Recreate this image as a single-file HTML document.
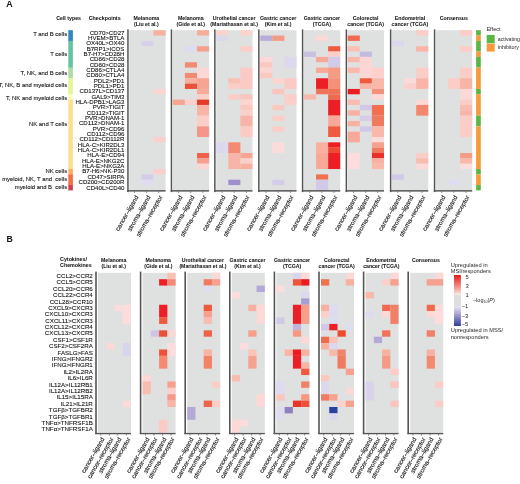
<!DOCTYPE html>
<html><head><meta charset="utf-8"><style>
html,body{margin:0;padding:0;background:#fff;}
body{width:520px;height:484px;position:relative;overflow:hidden;font-family:"Liberation Sans",sans-serif;}
body>div,#tx>div{position:absolute;}
#tx{left:0;top:0;width:520px;height:484px;transform:translateZ(0);}
.t{white-space:nowrap;-webkit-text-stroke:0.1px #000;}
.ra{width:0;height:0;transform:rotate(-60deg);transform-origin:0 0;}
.ra span{position:absolute;right:0;white-space:nowrap;color:#1a1a1a;-webkit-text-stroke:0.12px #000;}
</style></head><body>
<svg width="520" height="484" style="position:absolute;left:0;top:0">
<rect x="68.30" y="30.20" width="4.60" height="10.98" fill="#3288bd"/>
<rect x="68.30" y="40.88" width="4.60" height="27.00" fill="#66c2a5"/>
<rect x="68.30" y="67.58" width="4.60" height="10.98" fill="#abdda4"/>
<rect x="68.30" y="78.26" width="4.60" height="16.32" fill="#e6f598"/>
<rect x="68.30" y="94.28" width="4.60" height="5.64" fill="#ffffbf"/>
<rect x="68.30" y="99.62" width="4.60" height="69.72" fill="#fee08b"/>
<rect x="68.30" y="169.04" width="4.60" height="5.64" fill="#fdae61"/>
<rect x="68.30" y="174.38" width="4.60" height="10.98" fill="#f46d43"/>
<rect x="68.30" y="185.06" width="4.60" height="5.34" fill="#d53e4f"/>
<rect x="129.30" y="30.20" width="36.30" height="160.20" fill="#dfe1e0"/>
<rect x="141.40" y="40.88" width="12.10" height="5.34" fill="#d8d0e8"/>
<rect x="141.40" y="174.38" width="12.10" height="5.34" fill="#d5cce8"/>
<rect x="141.40" y="179.72" width="12.10" height="5.34" fill="#e0dcef"/>
<rect x="153.50" y="30.20" width="12.10" height="5.34" fill="#f7b0a0"/>
<rect x="153.50" y="88.94" width="12.10" height="5.34" fill="#fbd5d0"/>
<rect x="153.50" y="137.00" width="12.10" height="5.34" fill="#fbd0cc"/>
<rect x="153.50" y="169.04" width="12.10" height="5.34" fill="#fbcfca"/>
<rect x="127.20" y="29.40" width="1.50" height="162.70" fill="#555555"/>
<rect x="127.20" y="190.10" width="38.40" height="1.50" fill="#555555"/>
<rect x="134.15" y="191.50" width="0.80" height="1.30" fill="#555555"/>
<rect x="146.25" y="191.50" width="0.80" height="1.30" fill="#555555"/>
<rect x="158.35" y="191.50" width="0.80" height="1.30" fill="#555555"/>
<rect x="172.80" y="30.20" width="36.30" height="160.20" fill="#dfe1e0"/>
<rect x="172.80" y="99.62" width="12.10" height="5.34" fill="#f5a592"/>
<rect x="184.90" y="46.22" width="12.10" height="5.34" fill="#dcdcf0"/>
<rect x="184.90" y="62.24" width="12.10" height="5.34" fill="#f28b76"/>
<rect x="184.90" y="72.92" width="12.10" height="5.34" fill="#f28b76"/>
<rect x="184.90" y="78.26" width="12.10" height="5.34" fill="#f8b0a0"/>
<rect x="184.90" y="83.60" width="12.10" height="5.34" fill="#e9503a"/>
<rect x="184.90" y="99.62" width="12.10" height="5.34" fill="#fbd0cc"/>
<rect x="197.00" y="30.20" width="12.10" height="5.34" fill="#f7ad9c"/>
<rect x="197.00" y="46.22" width="12.10" height="5.34" fill="#f5a08c"/>
<rect x="197.00" y="67.58" width="12.10" height="10.68" fill="#fbd8d5"/>
<rect x="197.00" y="78.26" width="12.10" height="10.68" fill="#f6a592"/>
<rect x="197.00" y="88.94" width="12.10" height="5.34" fill="#f7ab98"/>
<rect x="197.00" y="94.28" width="12.10" height="5.34" fill="#fbd0c8"/>
<rect x="197.00" y="99.62" width="12.10" height="5.34" fill="#e33a2a"/>
<rect x="197.00" y="104.96" width="12.10" height="10.68" fill="#f8b4a5"/>
<rect x="197.00" y="115.64" width="12.10" height="10.68" fill="#fbcfc8"/>
<rect x="197.00" y="126.32" width="12.10" height="10.68" fill="#f4978a"/>
<rect x="197.00" y="153.02" width="12.10" height="5.34" fill="#ee6048"/>
<rect x="197.00" y="158.36" width="12.10" height="5.34" fill="#f5a08e"/>
<rect x="197.00" y="163.70" width="12.10" height="5.34" fill="#fbd6d2"/>
<rect x="170.70" y="29.40" width="1.50" height="162.70" fill="#555555"/>
<rect x="170.70" y="190.10" width="38.40" height="1.50" fill="#555555"/>
<rect x="178.25" y="191.50" width="0.80" height="1.30" fill="#555555"/>
<rect x="190.35" y="191.50" width="0.80" height="1.30" fill="#555555"/>
<rect x="202.45" y="191.50" width="0.80" height="1.30" fill="#555555"/>
<rect x="216.20" y="30.20" width="36.30" height="160.20" fill="#dfe1e0"/>
<rect x="216.20" y="30.20" width="12.10" height="5.34" fill="#fbd3cd"/>
<rect x="216.20" y="35.54" width="12.10" height="5.34" fill="#dcd8ee"/>
<rect x="216.20" y="142.34" width="12.10" height="10.68" fill="#dcd8ee"/>
<rect x="228.30" y="78.26" width="12.10" height="5.34" fill="#f9c0b4"/>
<rect x="228.30" y="83.60" width="12.10" height="5.34" fill="#fbcdc6"/>
<rect x="228.30" y="94.28" width="12.10" height="5.34" fill="#fbcdc6"/>
<rect x="228.30" y="142.34" width="12.10" height="10.68" fill="#f48a72"/>
<rect x="228.30" y="153.02" width="12.10" height="16.02" fill="#f8b4a8"/>
<rect x="228.30" y="179.72" width="12.10" height="5.34" fill="#9f90cc"/>
<rect x="240.40" y="30.20" width="12.10" height="5.34" fill="#fbd3cd"/>
<rect x="240.40" y="46.22" width="12.10" height="5.34" fill="#fbcdc6"/>
<rect x="240.40" y="67.58" width="12.10" height="21.36" fill="#fbcac4"/>
<rect x="240.40" y="94.28" width="12.10" height="5.34" fill="#f9c4bc"/>
<rect x="240.40" y="99.62" width="12.10" height="5.34" fill="#fbd5d0"/>
<rect x="240.40" y="104.96" width="12.10" height="5.34" fill="#fbc8c0"/>
<rect x="240.40" y="110.30" width="12.10" height="5.34" fill="#fbd0ca"/>
<rect x="240.40" y="115.64" width="12.10" height="10.68" fill="#f8b4a8"/>
<rect x="240.40" y="126.32" width="12.10" height="10.68" fill="#fbcbc4"/>
<rect x="240.40" y="153.02" width="12.10" height="5.34" fill="#f6a493"/>
<rect x="240.40" y="158.36" width="12.10" height="5.34" fill="#fbd0ca"/>
<rect x="240.40" y="163.70" width="12.10" height="5.34" fill="#f8b0a0"/>
<rect x="214.10" y="29.40" width="1.50" height="162.70" fill="#555555"/>
<rect x="214.10" y="190.10" width="38.40" height="1.50" fill="#555555"/>
<rect x="221.65" y="191.50" width="0.80" height="1.30" fill="#555555"/>
<rect x="233.75" y="191.50" width="0.80" height="1.30" fill="#555555"/>
<rect x="245.85" y="191.50" width="0.80" height="1.30" fill="#555555"/>
<rect x="260.20" y="30.20" width="36.30" height="160.20" fill="#dfe1e0"/>
<rect x="260.20" y="35.54" width="12.10" height="5.34" fill="#b8acd8"/>
<rect x="260.20" y="56.90" width="12.10" height="5.34" fill="#fcd8d8"/>
<rect x="260.20" y="62.24" width="12.10" height="5.34" fill="#fbc8c0"/>
<rect x="260.20" y="67.58" width="12.10" height="5.34" fill="#fcd5d2"/>
<rect x="260.20" y="72.92" width="12.10" height="5.34" fill="#fbc8c0"/>
<rect x="272.30" y="35.54" width="12.10" height="5.34" fill="#f59a82"/>
<rect x="272.30" y="78.26" width="12.10" height="5.34" fill="#fcd5d0"/>
<rect x="272.30" y="88.94" width="12.10" height="5.34" fill="#fbc4bc"/>
<rect x="272.30" y="104.96" width="12.10" height="5.34" fill="#fbc8c0"/>
<rect x="272.30" y="115.64" width="12.10" height="5.34" fill="#fbcdc6"/>
<rect x="272.30" y="126.32" width="12.10" height="5.34" fill="#fbcdc6"/>
<rect x="272.30" y="142.34" width="12.10" height="10.68" fill="#fbdcdc"/>
<rect x="272.30" y="179.72" width="12.10" height="5.34" fill="#d5cce8"/>
<rect x="284.40" y="56.90" width="12.10" height="10.68" fill="#dcd8ee"/>
<rect x="284.40" y="78.26" width="12.10" height="10.68" fill="#fbcac4"/>
<rect x="284.40" y="94.28" width="12.10" height="5.34" fill="#fbcdc6"/>
<rect x="284.40" y="99.62" width="12.10" height="5.34" fill="#fbd0ca"/>
<rect x="258.10" y="29.40" width="1.50" height="162.70" fill="#555555"/>
<rect x="258.10" y="190.10" width="38.40" height="1.50" fill="#555555"/>
<rect x="265.65" y="191.50" width="0.80" height="1.30" fill="#555555"/>
<rect x="277.75" y="191.50" width="0.80" height="1.30" fill="#555555"/>
<rect x="289.85" y="191.50" width="0.80" height="1.30" fill="#555555"/>
<rect x="303.95" y="30.20" width="36.30" height="160.20" fill="#dfe1e0"/>
<rect x="303.95" y="51.56" width="12.10" height="5.34" fill="#c9c0e2"/>
<rect x="303.95" y="94.28" width="12.10" height="5.34" fill="#f9b8aa"/>
<rect x="316.05" y="35.54" width="12.10" height="5.34" fill="#fcd8d6"/>
<rect x="316.05" y="56.90" width="12.10" height="5.34" fill="#f7a896"/>
<rect x="316.05" y="67.58" width="12.10" height="5.34" fill="#f7a896"/>
<rect x="316.05" y="78.26" width="12.10" height="10.68" fill="#ec1f26"/>
<rect x="316.05" y="88.94" width="12.10" height="5.34" fill="#f07358"/>
<rect x="316.05" y="142.34" width="12.10" height="10.68" fill="#f9b0a0"/>
<rect x="316.05" y="153.02" width="12.10" height="16.02" fill="#f8a898"/>
<rect x="316.05" y="174.38" width="12.10" height="5.34" fill="#f07050"/>
<rect x="316.05" y="179.72" width="12.10" height="10.68" fill="#d2c8e8"/>
<rect x="328.15" y="46.22" width="12.10" height="5.34" fill="#ee5a3e"/>
<rect x="328.15" y="51.56" width="12.10" height="5.34" fill="#fbcfc8"/>
<rect x="328.15" y="56.90" width="12.10" height="10.68" fill="#d2cce8"/>
<rect x="328.15" y="67.58" width="12.10" height="10.68" fill="#f59a85"/>
<rect x="328.15" y="78.26" width="12.10" height="10.68" fill="#f4907a"/>
<rect x="328.15" y="88.94" width="12.10" height="5.34" fill="#f07358"/>
<rect x="328.15" y="94.28" width="12.10" height="5.34" fill="#ef6850"/>
<rect x="328.15" y="99.62" width="12.10" height="16.02" fill="#ec1f26"/>
<rect x="328.15" y="115.64" width="12.10" height="10.68" fill="#f8a898"/>
<rect x="328.15" y="126.32" width="12.10" height="10.68" fill="#f05a3e"/>
<rect x="328.15" y="137.00" width="12.10" height="5.34" fill="#e8e6e6"/>
<rect x="328.15" y="142.34" width="12.10" height="5.34" fill="#ec1f26"/>
<rect x="328.15" y="147.68" width="12.10" height="5.34" fill="#ee4a35"/>
<rect x="328.15" y="153.02" width="12.10" height="16.02" fill="#ec1f26"/>
<rect x="301.85" y="29.40" width="1.50" height="162.70" fill="#555555"/>
<rect x="301.85" y="190.10" width="38.40" height="1.50" fill="#555555"/>
<rect x="309.40" y="191.50" width="0.80" height="1.30" fill="#555555"/>
<rect x="321.50" y="191.50" width="0.80" height="1.30" fill="#555555"/>
<rect x="333.60" y="191.50" width="0.80" height="1.30" fill="#555555"/>
<rect x="347.70" y="30.20" width="36.30" height="160.20" fill="#dfe1e0"/>
<rect x="347.70" y="35.54" width="12.10" height="5.34" fill="#f06a50"/>
<rect x="347.70" y="46.22" width="12.10" height="5.34" fill="#fbc0b5"/>
<rect x="347.70" y="56.90" width="12.10" height="5.34" fill="#f9b8aa"/>
<rect x="347.70" y="67.58" width="12.10" height="5.34" fill="#f9b8aa"/>
<rect x="347.70" y="88.94" width="12.10" height="5.34" fill="#ea1c22"/>
<rect x="347.70" y="99.62" width="12.10" height="5.34" fill="#f9bcb0"/>
<rect x="347.70" y="110.30" width="12.10" height="5.34" fill="#f8b0a0"/>
<rect x="347.70" y="120.98" width="12.10" height="5.34" fill="#f8b0a0"/>
<rect x="347.70" y="131.66" width="12.10" height="10.68" fill="#f7a898"/>
<rect x="347.70" y="153.02" width="12.10" height="16.02" fill="#fcdcdc"/>
<rect x="359.80" y="51.56" width="12.10" height="5.34" fill="#c4bce0"/>
<rect x="359.80" y="56.90" width="12.10" height="21.36" fill="#fcd6d4"/>
<rect x="359.80" y="78.26" width="12.10" height="5.34" fill="#ee5a40"/>
<rect x="359.80" y="83.60" width="12.10" height="5.34" fill="#f9b4a6"/>
<rect x="359.80" y="104.96" width="12.10" height="5.34" fill="#d0c8e6"/>
<rect x="359.80" y="115.64" width="12.10" height="5.34" fill="#d5cde8"/>
<rect x="359.80" y="126.32" width="12.10" height="5.34" fill="#d0c8e6"/>
<rect x="371.90" y="67.58" width="12.10" height="10.68" fill="#fcd0cc"/>
<rect x="371.90" y="78.26" width="12.10" height="10.68" fill="#f9b8aa"/>
<rect x="371.90" y="88.94" width="12.10" height="5.34" fill="#f5907a"/>
<rect x="371.90" y="94.28" width="12.10" height="5.34" fill="#fcd8d6"/>
<rect x="371.90" y="104.96" width="12.10" height="10.68" fill="#f07050"/>
<rect x="371.90" y="115.64" width="12.10" height="10.68" fill="#f07a60"/>
<rect x="371.90" y="126.32" width="12.10" height="10.68" fill="#f9b8aa"/>
<rect x="371.90" y="137.00" width="12.10" height="5.34" fill="#fcdcdc"/>
<rect x="371.90" y="142.34" width="12.10" height="5.34" fill="#f6a090"/>
<rect x="371.90" y="147.68" width="12.10" height="5.34" fill="#f07a60"/>
<rect x="371.90" y="153.02" width="12.10" height="5.34" fill="#e8302a"/>
<rect x="371.90" y="158.36" width="12.10" height="5.34" fill="#f8b0a0"/>
<rect x="371.90" y="163.70" width="12.10" height="5.34" fill="#f9b8aa"/>
<rect x="345.60" y="29.40" width="1.50" height="162.70" fill="#555555"/>
<rect x="345.60" y="190.10" width="38.40" height="1.50" fill="#555555"/>
<rect x="353.15" y="191.50" width="0.80" height="1.30" fill="#555555"/>
<rect x="365.25" y="191.50" width="0.80" height="1.30" fill="#555555"/>
<rect x="377.35" y="191.50" width="0.80" height="1.30" fill="#555555"/>
<rect x="392.00" y="30.20" width="36.30" height="160.20" fill="#dfe1e0"/>
<rect x="392.00" y="40.88" width="12.10" height="5.34" fill="#dcd6ee"/>
<rect x="392.00" y="174.38" width="12.10" height="5.34" fill="#d2c8e8"/>
<rect x="404.10" y="78.26" width="12.10" height="5.34" fill="#fcdada"/>
<rect x="404.10" y="83.60" width="12.10" height="5.34" fill="#fbd0ca"/>
<rect x="416.20" y="30.20" width="12.10" height="5.34" fill="#fbcdc6"/>
<rect x="416.20" y="46.22" width="12.10" height="5.34" fill="#f9b4a6"/>
<rect x="416.20" y="67.58" width="12.10" height="10.68" fill="#fbcdc6"/>
<rect x="416.20" y="78.26" width="12.10" height="10.68" fill="#f8b4a6"/>
<rect x="416.20" y="99.62" width="12.10" height="5.34" fill="#fcd8d6"/>
<rect x="416.20" y="104.96" width="12.10" height="10.68" fill="#f3876e"/>
<rect x="416.20" y="153.02" width="12.10" height="5.34" fill="#fbcdc6"/>
<rect x="416.20" y="158.36" width="12.10" height="5.34" fill="#f9bcb0"/>
<rect x="416.20" y="163.70" width="12.10" height="5.34" fill="#fcdada"/>
<rect x="389.90" y="29.40" width="1.50" height="162.70" fill="#555555"/>
<rect x="389.90" y="190.10" width="38.40" height="1.50" fill="#555555"/>
<rect x="397.45" y="191.50" width="0.80" height="1.30" fill="#555555"/>
<rect x="409.55" y="191.50" width="0.80" height="1.30" fill="#555555"/>
<rect x="421.65" y="191.50" width="0.80" height="1.30" fill="#555555"/>
<rect x="435.90" y="30.20" width="36.30" height="160.20" fill="#dfe1e0"/>
<rect x="448.00" y="78.26" width="12.10" height="10.68" fill="#fbcdc6"/>
<rect x="448.00" y="179.72" width="12.10" height="5.34" fill="#e0dcf0"/>
<rect x="460.10" y="30.20" width="12.10" height="5.34" fill="#fbcdc6"/>
<rect x="460.10" y="46.22" width="12.10" height="5.34" fill="#fbcdc6"/>
<rect x="460.10" y="67.58" width="12.10" height="10.68" fill="#fbcdc6"/>
<rect x="460.10" y="78.26" width="12.10" height="10.68" fill="#f8b4a6"/>
<rect x="460.10" y="88.94" width="12.10" height="10.68" fill="#fcd8d6"/>
<rect x="460.10" y="99.62" width="12.10" height="5.34" fill="#fbcdc6"/>
<rect x="460.10" y="104.96" width="12.10" height="5.34" fill="#f9bcb0"/>
<rect x="460.10" y="110.30" width="12.10" height="5.34" fill="#f8b4a6"/>
<rect x="460.10" y="115.64" width="12.10" height="21.36" fill="#fbcdc6"/>
<rect x="460.10" y="153.02" width="12.10" height="5.34" fill="#f59c88"/>
<rect x="460.10" y="158.36" width="12.10" height="5.34" fill="#f9b8aa"/>
<rect x="460.10" y="163.70" width="12.10" height="5.34" fill="#fcdcdc"/>
<rect x="433.80" y="29.40" width="1.50" height="162.70" fill="#555555"/>
<rect x="433.80" y="190.10" width="38.40" height="1.50" fill="#555555"/>
<rect x="441.35" y="191.50" width="0.80" height="1.30" fill="#555555"/>
<rect x="453.45" y="191.50" width="0.80" height="1.30" fill="#555555"/>
<rect x="465.55" y="191.50" width="0.80" height="1.30" fill="#555555"/>
<rect x="476.10" y="30.20" width="4.70" height="5.34" fill="#5cb545"/>
<rect x="476.10" y="35.54" width="4.70" height="5.34" fill="#f79a3c"/>
<rect x="476.10" y="40.88" width="4.70" height="10.68" fill="#5cb545"/>
<rect x="476.10" y="51.56" width="4.70" height="5.34" fill="#f79a3c"/>
<rect x="476.10" y="56.90" width="4.70" height="10.68" fill="#5cb545"/>
<rect x="476.10" y="67.58" width="4.70" height="21.36" fill="#f79a3c"/>
<rect x="476.10" y="88.94" width="4.70" height="5.34" fill="#5cb545"/>
<rect x="476.10" y="94.28" width="4.70" height="21.36" fill="#f79a3c"/>
<rect x="476.10" y="115.64" width="4.70" height="10.68" fill="#5cb545"/>
<rect x="476.10" y="126.32" width="4.70" height="42.72" fill="#f79a3c"/>
<rect x="476.10" y="169.04" width="4.70" height="5.34" fill="#5cb545"/>
<rect x="476.10" y="174.38" width="4.70" height="10.68" fill="#f79a3c"/>
<rect x="476.10" y="185.06" width="4.70" height="5.34" fill="#5cb545"/>
<rect x="486.70" y="34.90" width="8.00" height="8.30" fill="#5cb545"/>
<rect x="486.70" y="43.60" width="8.00" height="8.00" fill="#f79a3c"/>
<rect x="98.00" y="272.80" width="33.00" height="159.75" fill="#dfe1e0"/>
<rect x="106.25" y="343.09" width="8.25" height="6.39" fill="#fcd8d6"/>
<rect x="114.50" y="304.75" width="8.25" height="6.39" fill="#fcdcdc"/>
<rect x="122.75" y="304.75" width="8.25" height="19.17" fill="#fcdcdc"/>
<rect x="122.75" y="343.09" width="8.25" height="12.78" fill="#d8d4ec"/>
<rect x="122.75" y="400.60" width="8.25" height="6.39" fill="#fcdada"/>
<rect x="95.20" y="271.60" width="1.60" height="162.45" fill="#555555"/>
<rect x="95.20" y="432.85" width="35.80" height="1.40" fill="#555555"/>
<rect x="100.40" y="434.15" width="0.80" height="1.30" fill="#555555"/>
<rect x="108.90" y="434.15" width="0.80" height="1.30" fill="#555555"/>
<rect x="117.40" y="434.15" width="0.80" height="1.30" fill="#555555"/>
<rect x="125.90" y="434.15" width="0.80" height="1.30" fill="#555555"/>
<rect x="142.60" y="272.80" width="33.00" height="159.75" fill="#dfe1e0"/>
<rect x="142.60" y="375.04" width="8.25" height="6.39" fill="#fcd8d6"/>
<rect x="142.60" y="381.43" width="8.25" height="12.78" fill="#f9bcb0"/>
<rect x="150.85" y="330.31" width="8.25" height="6.39" fill="#cdc4e4"/>
<rect x="159.10" y="279.19" width="8.25" height="6.39" fill="#ec1f26"/>
<rect x="159.10" y="304.75" width="8.25" height="12.78" fill="#ec1f26"/>
<rect x="159.10" y="317.53" width="8.25" height="6.39" fill="#ee5a40"/>
<rect x="159.10" y="330.31" width="8.25" height="6.39" fill="#ec5034"/>
<rect x="159.10" y="349.48" width="8.25" height="6.39" fill="#ee5038"/>
<rect x="159.10" y="355.87" width="8.25" height="12.78" fill="#f48a70"/>
<rect x="159.10" y="419.77" width="8.25" height="12.78" fill="#fbcac4"/>
<rect x="167.35" y="272.80" width="8.25" height="6.39" fill="#f9c0b4"/>
<rect x="167.35" y="279.19" width="8.25" height="6.39" fill="#f48a76"/>
<rect x="167.35" y="330.31" width="8.25" height="6.39" fill="#fcd8d6"/>
<rect x="167.35" y="343.09" width="8.25" height="12.78" fill="#fcdcdc"/>
<rect x="167.35" y="381.43" width="8.25" height="6.39" fill="#f6a090"/>
<rect x="167.35" y="387.82" width="8.25" height="6.39" fill="#fbd0ca"/>
<rect x="167.35" y="394.21" width="8.25" height="6.39" fill="#f59a88"/>
<rect x="167.35" y="400.60" width="8.25" height="6.39" fill="#f8b4a6"/>
<rect x="139.80" y="271.60" width="1.60" height="162.45" fill="#555555"/>
<rect x="139.80" y="432.85" width="35.80" height="1.40" fill="#555555"/>
<rect x="145.00" y="434.15" width="0.80" height="1.30" fill="#555555"/>
<rect x="153.50" y="434.15" width="0.80" height="1.30" fill="#555555"/>
<rect x="162.00" y="434.15" width="0.80" height="1.30" fill="#555555"/>
<rect x="170.50" y="434.15" width="0.80" height="1.30" fill="#555555"/>
<rect x="187.20" y="272.80" width="33.00" height="159.75" fill="#dfe1e0"/>
<rect x="187.20" y="406.99" width="8.25" height="12.78" fill="#b4a8d8"/>
<rect x="203.70" y="279.19" width="8.25" height="6.39" fill="#f07a60"/>
<rect x="203.70" y="285.58" width="8.25" height="6.39" fill="#e0dcf0"/>
<rect x="203.70" y="304.75" width="8.25" height="6.39" fill="#ee5a40"/>
<rect x="203.70" y="311.14" width="8.25" height="6.39" fill="#f5a08c"/>
<rect x="203.70" y="317.53" width="8.25" height="6.39" fill="#f9bcb0"/>
<rect x="203.70" y="330.31" width="8.25" height="6.39" fill="#ee6248"/>
<rect x="203.70" y="349.48" width="8.25" height="6.39" fill="#f9b4a6"/>
<rect x="203.70" y="355.87" width="8.25" height="12.78" fill="#f28268"/>
<rect x="203.70" y="400.60" width="8.25" height="6.39" fill="#ee6248"/>
<rect x="211.95" y="272.80" width="8.25" height="6.39" fill="#fcd8d6"/>
<rect x="211.95" y="279.19" width="8.25" height="6.39" fill="#f6a090"/>
<rect x="211.95" y="381.43" width="8.25" height="6.39" fill="#fbcdc6"/>
<rect x="211.95" y="400.60" width="8.25" height="6.39" fill="#fbcdc6"/>
<rect x="184.40" y="271.60" width="1.60" height="162.45" fill="#555555"/>
<rect x="184.40" y="432.85" width="35.80" height="1.40" fill="#555555"/>
<rect x="189.60" y="434.15" width="0.80" height="1.30" fill="#555555"/>
<rect x="198.10" y="434.15" width="0.80" height="1.30" fill="#555555"/>
<rect x="206.60" y="434.15" width="0.80" height="1.30" fill="#555555"/>
<rect x="215.10" y="434.15" width="0.80" height="1.30" fill="#555555"/>
<rect x="231.80" y="272.80" width="33.00" height="159.75" fill="#dfe1e0"/>
<rect x="231.80" y="291.97" width="8.25" height="6.39" fill="#fcdcdc"/>
<rect x="231.80" y="375.04" width="8.25" height="6.39" fill="#f9bcb0"/>
<rect x="231.80" y="419.77" width="8.25" height="12.78" fill="#fcd8d6"/>
<rect x="240.05" y="343.09" width="8.25" height="6.39" fill="#fcdcdc"/>
<rect x="240.05" y="419.77" width="8.25" height="6.39" fill="#fcdcdc"/>
<rect x="248.30" y="304.75" width="8.25" height="6.39" fill="#f8b0a0"/>
<rect x="248.30" y="330.31" width="8.25" height="6.39" fill="#f5a08c"/>
<rect x="248.30" y="349.48" width="8.25" height="6.39" fill="#fbc4b8"/>
<rect x="248.30" y="355.87" width="8.25" height="12.78" fill="#f6a290"/>
<rect x="256.55" y="285.58" width="8.25" height="6.39" fill="#b4a8d8"/>
<rect x="256.55" y="304.75" width="8.25" height="19.17" fill="#fcd8d6"/>
<rect x="256.55" y="394.21" width="8.25" height="12.78" fill="#fcd8d6"/>
<rect x="229.00" y="271.60" width="1.60" height="162.45" fill="#555555"/>
<rect x="229.00" y="432.85" width="35.80" height="1.40" fill="#555555"/>
<rect x="234.20" y="434.15" width="0.80" height="1.30" fill="#555555"/>
<rect x="242.70" y="434.15" width="0.80" height="1.30" fill="#555555"/>
<rect x="251.20" y="434.15" width="0.80" height="1.30" fill="#555555"/>
<rect x="259.70" y="434.15" width="0.80" height="1.30" fill="#555555"/>
<rect x="276.40" y="272.80" width="33.00" height="159.75" fill="#dfe1e0"/>
<rect x="276.40" y="285.58" width="8.25" height="6.39" fill="#fcdcdc"/>
<rect x="276.40" y="317.53" width="8.25" height="6.39" fill="#cfc8e6"/>
<rect x="276.40" y="381.43" width="8.25" height="12.78" fill="#dedaf0"/>
<rect x="276.40" y="394.21" width="8.25" height="6.39" fill="#fbc4bc"/>
<rect x="276.40" y="406.99" width="8.25" height="12.78" fill="#e0dcf0"/>
<rect x="284.65" y="349.48" width="8.25" height="6.39" fill="#f9b4a6"/>
<rect x="284.65" y="406.99" width="8.25" height="6.39" fill="#8f80c0"/>
<rect x="292.90" y="272.80" width="8.25" height="6.39" fill="#d8d4ec"/>
<rect x="292.90" y="279.19" width="8.25" height="6.39" fill="#ee5538"/>
<rect x="292.90" y="304.75" width="8.25" height="19.17" fill="#ec1f26"/>
<rect x="292.90" y="323.92" width="8.25" height="6.39" fill="#bfb4dc"/>
<rect x="292.90" y="330.31" width="8.25" height="6.39" fill="#f5987f"/>
<rect x="292.90" y="349.48" width="8.25" height="6.39" fill="#ea1c22"/>
<rect x="292.90" y="355.87" width="8.25" height="12.78" fill="#ec1f26"/>
<rect x="292.90" y="400.60" width="8.25" height="6.39" fill="#e8342a"/>
<rect x="301.15" y="272.80" width="8.25" height="6.39" fill="#fcd8d6"/>
<rect x="301.15" y="279.19" width="8.25" height="6.39" fill="#ea1c22"/>
<rect x="301.15" y="291.97" width="8.25" height="6.39" fill="#dcd8ee"/>
<rect x="301.15" y="298.36" width="8.25" height="6.39" fill="#a89cd0"/>
<rect x="301.15" y="304.75" width="8.25" height="19.17" fill="#f6a08c"/>
<rect x="301.15" y="336.70" width="8.25" height="6.39" fill="#fcd8d6"/>
<rect x="301.15" y="349.48" width="8.25" height="6.39" fill="#f8b0a0"/>
<rect x="301.15" y="362.26" width="8.25" height="6.39" fill="#f8b4a6"/>
<rect x="301.15" y="368.65" width="8.25" height="6.39" fill="#ee5a40"/>
<rect x="301.15" y="381.43" width="8.25" height="6.39" fill="#f28068"/>
<rect x="301.15" y="394.21" width="8.25" height="6.39" fill="#f5987f"/>
<rect x="301.15" y="400.60" width="8.25" height="6.39" fill="#ee5038"/>
<rect x="273.60" y="271.60" width="1.60" height="162.45" fill="#555555"/>
<rect x="273.60" y="432.85" width="35.80" height="1.40" fill="#555555"/>
<rect x="278.80" y="434.15" width="0.80" height="1.30" fill="#555555"/>
<rect x="287.30" y="434.15" width="0.80" height="1.30" fill="#555555"/>
<rect x="295.80" y="434.15" width="0.80" height="1.30" fill="#555555"/>
<rect x="304.30" y="434.15" width="0.80" height="1.30" fill="#555555"/>
<rect x="321.00" y="272.80" width="33.00" height="159.75" fill="#dfe1e0"/>
<rect x="321.00" y="279.19" width="8.25" height="6.39" fill="#f07050"/>
<rect x="321.00" y="304.75" width="8.25" height="6.39" fill="#f8b0a0"/>
<rect x="321.00" y="311.14" width="8.25" height="6.39" fill="#fbd0ca"/>
<rect x="321.00" y="323.92" width="8.25" height="6.39" fill="#cfc8e6"/>
<rect x="321.00" y="336.70" width="8.25" height="6.39" fill="#f06a50"/>
<rect x="321.00" y="343.09" width="8.25" height="6.39" fill="#f8b0a0"/>
<rect x="321.00" y="375.04" width="8.25" height="6.39" fill="#fbc8c0"/>
<rect x="321.00" y="381.43" width="8.25" height="12.78" fill="#dcd8ee"/>
<rect x="321.00" y="394.21" width="8.25" height="6.39" fill="#f07a60"/>
<rect x="329.25" y="304.75" width="8.25" height="12.78" fill="#dedaf0"/>
<rect x="329.25" y="317.53" width="8.25" height="6.39" fill="#e0dcf0"/>
<rect x="329.25" y="323.92" width="8.25" height="6.39" fill="#ec1f26"/>
<rect x="329.25" y="336.70" width="8.25" height="6.39" fill="#f9c0b4"/>
<rect x="329.25" y="343.09" width="8.25" height="6.39" fill="#dcd8ee"/>
<rect x="329.25" y="349.48" width="8.25" height="6.39" fill="#f8b8aa"/>
<rect x="329.25" y="394.21" width="8.25" height="6.39" fill="#f6a090"/>
<rect x="329.25" y="406.99" width="8.25" height="6.39" fill="#2a40a0"/>
<rect x="329.25" y="413.38" width="8.25" height="6.39" fill="#dcd8ee"/>
<rect x="337.50" y="330.31" width="8.25" height="6.39" fill="#ee4a30"/>
<rect x="337.50" y="349.48" width="8.25" height="6.39" fill="#f28268"/>
<rect x="337.50" y="355.87" width="8.25" height="12.78" fill="#f07a60"/>
<rect x="337.50" y="400.60" width="8.25" height="6.39" fill="#fcd0cc"/>
<rect x="345.75" y="272.80" width="8.25" height="6.39" fill="#fcd8d6"/>
<rect x="345.75" y="279.19" width="8.25" height="6.39" fill="#f8b0a0"/>
<rect x="345.75" y="323.92" width="8.25" height="6.39" fill="#e0dcf0"/>
<rect x="345.75" y="368.65" width="8.25" height="6.39" fill="#f6a090"/>
<rect x="345.75" y="387.82" width="8.25" height="6.39" fill="#fcd8d6"/>
<rect x="345.75" y="400.60" width="8.25" height="6.39" fill="#f6a090"/>
<rect x="318.20" y="271.60" width="1.60" height="162.45" fill="#555555"/>
<rect x="318.20" y="432.85" width="35.80" height="1.40" fill="#555555"/>
<rect x="323.40" y="434.15" width="0.80" height="1.30" fill="#555555"/>
<rect x="331.90" y="434.15" width="0.80" height="1.30" fill="#555555"/>
<rect x="340.40" y="434.15" width="0.80" height="1.30" fill="#555555"/>
<rect x="348.90" y="434.15" width="0.80" height="1.30" fill="#555555"/>
<rect x="365.60" y="272.80" width="33.00" height="159.75" fill="#dfe1e0"/>
<rect x="365.60" y="291.97" width="8.25" height="6.39" fill="#f9b8aa"/>
<rect x="365.60" y="311.14" width="8.25" height="6.39" fill="#dedaf0"/>
<rect x="365.60" y="381.43" width="8.25" height="19.17" fill="#d8d2ec"/>
<rect x="373.85" y="336.70" width="8.25" height="6.39" fill="#b4a8d8"/>
<rect x="382.10" y="279.19" width="8.25" height="6.39" fill="#fbd0ca"/>
<rect x="382.10" y="304.75" width="8.25" height="6.39" fill="#f06a50"/>
<rect x="382.10" y="311.14" width="8.25" height="6.39" fill="#fcd8d6"/>
<rect x="382.10" y="330.31" width="8.25" height="6.39" fill="#f07258"/>
<rect x="382.10" y="349.48" width="8.25" height="6.39" fill="#f8b0a0"/>
<rect x="382.10" y="355.87" width="8.25" height="12.78" fill="#f59a85"/>
<rect x="390.35" y="272.80" width="8.25" height="6.39" fill="#fcd8d6"/>
<rect x="390.35" y="279.19" width="8.25" height="6.39" fill="#f6a090"/>
<rect x="390.35" y="304.75" width="8.25" height="19.17" fill="#f28068"/>
<rect x="390.35" y="368.65" width="8.25" height="6.39" fill="#fbcdc6"/>
<rect x="390.35" y="381.43" width="8.25" height="6.39" fill="#fbc4bc"/>
<rect x="390.35" y="400.60" width="8.25" height="6.39" fill="#fbc4bc"/>
<rect x="362.80" y="271.60" width="1.60" height="162.45" fill="#555555"/>
<rect x="362.80" y="432.85" width="35.80" height="1.40" fill="#555555"/>
<rect x="368.00" y="434.15" width="0.80" height="1.30" fill="#555555"/>
<rect x="376.50" y="434.15" width="0.80" height="1.30" fill="#555555"/>
<rect x="385.00" y="434.15" width="0.80" height="1.30" fill="#555555"/>
<rect x="393.50" y="434.15" width="0.80" height="1.30" fill="#555555"/>
<rect x="410.20" y="272.80" width="33.00" height="159.75" fill="#dfe1e0"/>
<rect x="426.70" y="279.19" width="8.25" height="6.39" fill="#f6a090"/>
<rect x="426.70" y="304.75" width="8.25" height="6.39" fill="#f06a50"/>
<rect x="426.70" y="311.14" width="8.25" height="6.39" fill="#fcd8d6"/>
<rect x="426.70" y="330.31" width="8.25" height="6.39" fill="#f28068"/>
<rect x="426.70" y="349.48" width="8.25" height="6.39" fill="#f8b0a0"/>
<rect x="426.70" y="355.87" width="8.25" height="12.78" fill="#f28a70"/>
<rect x="434.95" y="272.80" width="8.25" height="6.39" fill="#fcd8d6"/>
<rect x="434.95" y="279.19" width="8.25" height="6.39" fill="#f6a090"/>
<rect x="434.95" y="304.75" width="8.25" height="19.17" fill="#fcdcdc"/>
<rect x="434.95" y="381.43" width="8.25" height="6.39" fill="#fbcdc6"/>
<rect x="434.95" y="400.60" width="8.25" height="6.39" fill="#fbcdc6"/>
<rect x="407.40" y="271.60" width="1.60" height="162.45" fill="#555555"/>
<rect x="407.40" y="432.85" width="35.80" height="1.40" fill="#555555"/>
<rect x="412.60" y="434.15" width="0.80" height="1.30" fill="#555555"/>
<rect x="421.10" y="434.15" width="0.80" height="1.30" fill="#555555"/>
<rect x="429.60" y="434.15" width="0.80" height="1.30" fill="#555555"/>
<rect x="438.10" y="434.15" width="0.80" height="1.30" fill="#555555"/>
<defs><linearGradient id="lg" x1="0" y1="0" x2="0" y2="1"><stop offset="0" stop-color="#e41a1c"/><stop offset="0.3" stop-color="#f7b5ab"/><stop offset="0.39" stop-color="#f6eceb"/><stop offset="0.4" stop-color="#dedede"/><stop offset="0.6" stop-color="#dedede"/><stop offset="0.61" stop-color="#e9e6f2"/><stop offset="0.75" stop-color="#b3aad6"/><stop offset="1" stop-color="#2c3e98"/></linearGradient></defs>
<rect x="454.00" y="275.00" width="6.90" height="51.00" fill="url(#lg)"/>
</svg>
<div id="tx">
<div class="t" style="left:6.20px;top:-0.35px;font-size:8.8px;line-height:8.8px;font-weight:bold;-webkit-text-stroke:0.05px #000;color:#1a1a1a;">A</div>
<div class="t" style="left:6.50px;top:234.54px;font-size:8.7px;line-height:8.7px;font-weight:bold;-webkit-text-stroke:0.05px #000;color:#1a1a1a;">B</div>
<div class="t" style="left:56.20px;top:16.06px;font-size:5.25px;line-height:5.25px;font-weight:bold;-webkit-text-stroke:0.05px #000;color:#1a1a1a;">Cell types</div>
<div class="t" style="left:88.80px;top:16.01px;font-size:5.3px;line-height:5.3px;font-weight:bold;-webkit-text-stroke:0.05px #000;color:#1a1a1a;">Checkpoints</div>
<div class="t" style="right:395.60px;top:29.64px;font-size:6.1px;line-height:6.1px;color:#1a1a1a;">CD70&gt;CD27</div>
<div class="t" style="right:395.60px;top:34.98px;font-size:6.1px;line-height:6.1px;color:#1a1a1a;">HVEM&gt;BTLA</div>
<div class="t" style="right:395.60px;top:40.32px;font-size:6.1px;line-height:6.1px;color:#1a1a1a;">OX40L&gt;OX40</div>
<div class="t" style="right:395.60px;top:45.66px;font-size:6.1px;line-height:6.1px;color:#1a1a1a;">B7RP1&gt;ICOS</div>
<div class="t" style="right:395.60px;top:51.00px;font-size:6.1px;line-height:6.1px;color:#1a1a1a;">B7-H7&gt;CD28H</div>
<div class="t" style="right:395.60px;top:56.34px;font-size:6.1px;line-height:6.1px;color:#1a1a1a;">CD86&gt;CD28</div>
<div class="t" style="right:395.60px;top:61.68px;font-size:6.1px;line-height:6.1px;color:#1a1a1a;">CD80&gt;CD28</div>
<div class="t" style="right:395.60px;top:67.02px;font-size:6.1px;line-height:6.1px;color:#1a1a1a;">CD86&gt;CTLA4</div>
<div class="t" style="right:395.60px;top:72.36px;font-size:6.1px;line-height:6.1px;color:#1a1a1a;">CD80&gt;CTLA4</div>
<div class="t" style="right:395.60px;top:77.70px;font-size:6.1px;line-height:6.1px;color:#1a1a1a;">PDL2&gt;PD1</div>
<div class="t" style="right:395.60px;top:83.04px;font-size:6.1px;line-height:6.1px;color:#1a1a1a;">PDL1&gt;PD1</div>
<div class="t" style="right:395.60px;top:88.38px;font-size:6.1px;line-height:6.1px;color:#1a1a1a;">CD137L&gt;CD137</div>
<div class="t" style="right:395.60px;top:93.72px;font-size:6.1px;line-height:6.1px;color:#1a1a1a;">GAL9&gt;TIM3</div>
<div class="t" style="right:395.60px;top:99.06px;font-size:6.1px;line-height:6.1px;color:#1a1a1a;">HLA-DPB1&gt;LAG3</div>
<div class="t" style="right:395.60px;top:104.40px;font-size:6.1px;line-height:6.1px;color:#1a1a1a;">PVR&gt;TIGIT</div>
<div class="t" style="right:395.60px;top:109.74px;font-size:6.1px;line-height:6.1px;color:#1a1a1a;">CD112&gt;TIGIT</div>
<div class="t" style="right:395.60px;top:115.08px;font-size:6.1px;line-height:6.1px;color:#1a1a1a;">PVR&gt;DNAM-1</div>
<div class="t" style="right:395.60px;top:120.42px;font-size:6.1px;line-height:6.1px;color:#1a1a1a;">CD112&gt;DNAM-1</div>
<div class="t" style="right:395.60px;top:125.76px;font-size:6.1px;line-height:6.1px;color:#1a1a1a;">PVR&gt;CD96</div>
<div class="t" style="right:395.60px;top:131.10px;font-size:6.1px;line-height:6.1px;color:#1a1a1a;">CD112&gt;CD96</div>
<div class="t" style="right:395.60px;top:136.44px;font-size:6.1px;line-height:6.1px;color:#1a1a1a;">CD112&gt;CD112R</div>
<div class="t" style="right:395.60px;top:141.78px;font-size:6.1px;line-height:6.1px;color:#1a1a1a;">HLA-C&gt;KIR2DL3</div>
<div class="t" style="right:395.60px;top:147.12px;font-size:6.1px;line-height:6.1px;color:#1a1a1a;">HLA-C&gt;KIR2DL1</div>
<div class="t" style="right:395.60px;top:152.46px;font-size:6.1px;line-height:6.1px;color:#1a1a1a;">HLA-E&gt;CD94</div>
<div class="t" style="right:395.60px;top:157.80px;font-size:6.1px;line-height:6.1px;color:#1a1a1a;">HLA-E&gt;NKG2C</div>
<div class="t" style="right:395.60px;top:163.14px;font-size:6.1px;line-height:6.1px;color:#1a1a1a;">HLA-E&gt;NKG2A</div>
<div class="t" style="right:395.60px;top:168.48px;font-size:6.1px;line-height:6.1px;color:#1a1a1a;">B7-H6&gt;NK-P30</div>
<div class="t" style="right:395.60px;top:173.82px;font-size:6.1px;line-height:6.1px;color:#1a1a1a;">CD47&gt;SIRPA</div>
<div class="t" style="right:395.60px;top:179.16px;font-size:6.1px;line-height:6.1px;color:#1a1a1a;">CD200&gt;CD200R</div>
<div class="t" style="right:395.60px;top:184.50px;font-size:6.1px;line-height:6.1px;color:#1a1a1a;">CD40L&gt;CD40</div>
<div class="t" style="right:452.90px;top:32.16px;font-size:5.9px;line-height:5.9px;color:#1a1a1a;">T and B cells</div>
<div class="t" style="right:452.90px;top:51.95px;font-size:5.9px;line-height:5.9px;color:#1a1a1a;">T cells</div>
<div class="t" style="right:452.90px;top:70.54px;font-size:5.9px;line-height:5.9px;color:#1a1a1a;">T, NK, and B cells</div>
<div class="t" style="right:452.90px;top:83.09px;font-size:5.9px;line-height:5.9px;color:#1a1a1a;">T, NK, B and myeloid cells</div>
<div class="t" style="right:452.90px;top:95.97px;font-size:5.9px;line-height:5.9px;color:#1a1a1a;">T, NK and myeloid cells</div>
<div class="t" style="right:452.90px;top:121.95px;font-size:5.9px;line-height:5.9px;color:#1a1a1a;">NK and T cells</div>
<div class="t" style="right:452.90px;top:168.83px;font-size:5.9px;line-height:5.9px;color:#1a1a1a;">NK cells</div>
<div class="t" style="right:452.90px;top:176.84px;font-size:5.9px;line-height:5.9px;color:#1a1a1a;">myeloid, NK, T and&nbsp; cells</div>
<div class="t" style="right:452.90px;top:184.85px;font-size:5.9px;line-height:5.9px;color:#1a1a1a;">myeloid and B&nbsp; cells</div>
<div class="ra" style="left:136.75px;top:195.70px;"><span style="font-size:6.4px;line-height:6.4px;top:-3.20px">cancer&ndash;ligand</span></div>
<div class="ra" style="left:148.85px;top:195.70px;"><span style="font-size:6.4px;line-height:6.4px;top:-3.20px">stroma&ndash;ligand</span></div>
<div class="ra" style="left:160.95px;top:195.70px;"><span style="font-size:6.4px;line-height:6.4px;top:-3.20px">stroma&ndash;receptor</span></div>
<div class="t" style="left:46.40px;width:200px;text-align:center;top:15.66px;font-size:5.25px;line-height:5.25px;font-weight:bold;-webkit-text-stroke:0.05px #000;color:#1a1a1a;">Melanoma</div>
<div class="t" style="left:46.40px;width:200px;text-align:center;top:21.76px;font-size:5.25px;line-height:5.25px;font-weight:bold;-webkit-text-stroke:0.05px #000;color:#1a1a1a;">(Liu et al.)</div>
<div class="ra" style="left:180.85px;top:195.70px;"><span style="font-size:6.4px;line-height:6.4px;top:-3.20px">cancer&ndash;ligand</span></div>
<div class="ra" style="left:192.95px;top:195.70px;"><span style="font-size:6.4px;line-height:6.4px;top:-3.20px">stroma&ndash;ligand</span></div>
<div class="ra" style="left:205.05px;top:195.70px;"><span style="font-size:6.4px;line-height:6.4px;top:-3.20px">stroma&ndash;receptor</span></div>
<div class="t" style="left:90.75px;width:200px;text-align:center;top:15.66px;font-size:5.25px;line-height:5.25px;font-weight:bold;-webkit-text-stroke:0.05px #000;color:#1a1a1a;">Melanoma</div>
<div class="t" style="left:90.75px;width:200px;text-align:center;top:21.76px;font-size:5.25px;line-height:5.25px;font-weight:bold;-webkit-text-stroke:0.05px #000;color:#1a1a1a;">(Gide et al.)</div>
<div class="ra" style="left:224.25px;top:195.70px;"><span style="font-size:6.4px;line-height:6.4px;top:-3.20px">cancer&ndash;ligand</span></div>
<div class="ra" style="left:236.35px;top:195.70px;"><span style="font-size:6.4px;line-height:6.4px;top:-3.20px">stroma&ndash;ligand</span></div>
<div class="ra" style="left:248.45px;top:195.70px;"><span style="font-size:6.4px;line-height:6.4px;top:-3.20px">stroma&ndash;receptor</span></div>
<div class="t" style="left:134.15px;width:200px;text-align:center;top:15.66px;font-size:5.25px;line-height:5.25px;font-weight:bold;-webkit-text-stroke:0.05px #000;color:#1a1a1a;">Urothelial cancer</div>
<div class="t" style="left:134.15px;width:200px;text-align:center;top:21.76px;font-size:5.25px;line-height:5.25px;font-weight:bold;-webkit-text-stroke:0.05px #000;color:#1a1a1a;">(Mariathasan et al.)</div>
<div class="ra" style="left:268.25px;top:195.70px;"><span style="font-size:6.4px;line-height:6.4px;top:-3.20px">cancer&ndash;ligand</span></div>
<div class="ra" style="left:280.35px;top:195.70px;"><span style="font-size:6.4px;line-height:6.4px;top:-3.20px">stroma&ndash;ligand</span></div>
<div class="ra" style="left:292.45px;top:195.70px;"><span style="font-size:6.4px;line-height:6.4px;top:-3.20px">stroma&ndash;receptor</span></div>
<div class="t" style="left:178.15px;width:200px;text-align:center;top:15.66px;font-size:5.25px;line-height:5.25px;font-weight:bold;-webkit-text-stroke:0.05px #000;color:#1a1a1a;">Gastric cancer</div>
<div class="t" style="left:178.15px;width:200px;text-align:center;top:21.76px;font-size:5.25px;line-height:5.25px;font-weight:bold;-webkit-text-stroke:0.05px #000;color:#1a1a1a;">(Kim et al.)</div>
<div class="ra" style="left:312.00px;top:195.70px;"><span style="font-size:6.4px;line-height:6.4px;top:-3.20px">cancer&ndash;ligand</span></div>
<div class="ra" style="left:324.10px;top:195.70px;"><span style="font-size:6.4px;line-height:6.4px;top:-3.20px">stroma&ndash;ligand</span></div>
<div class="ra" style="left:336.20px;top:195.70px;"><span style="font-size:6.4px;line-height:6.4px;top:-3.20px">stroma&ndash;receptor</span></div>
<div class="t" style="left:221.90px;width:200px;text-align:center;top:15.66px;font-size:5.25px;line-height:5.25px;font-weight:bold;-webkit-text-stroke:0.05px #000;color:#1a1a1a;">Gastric cancer</div>
<div class="t" style="left:221.90px;width:200px;text-align:center;top:21.76px;font-size:5.25px;line-height:5.25px;font-weight:bold;-webkit-text-stroke:0.05px #000;color:#1a1a1a;">(TCGA)</div>
<div class="ra" style="left:355.75px;top:195.70px;"><span style="font-size:6.4px;line-height:6.4px;top:-3.20px">cancer&ndash;ligand</span></div>
<div class="ra" style="left:367.85px;top:195.70px;"><span style="font-size:6.4px;line-height:6.4px;top:-3.20px">stroma&ndash;ligand</span></div>
<div class="ra" style="left:379.95px;top:195.70px;"><span style="font-size:6.4px;line-height:6.4px;top:-3.20px">stroma&ndash;receptor</span></div>
<div class="t" style="left:265.65px;width:200px;text-align:center;top:15.66px;font-size:5.25px;line-height:5.25px;font-weight:bold;-webkit-text-stroke:0.05px #000;color:#1a1a1a;">Colorectal</div>
<div class="t" style="left:265.65px;width:200px;text-align:center;top:21.76px;font-size:5.25px;line-height:5.25px;font-weight:bold;-webkit-text-stroke:0.05px #000;color:#1a1a1a;">cancer (TCGA)</div>
<div class="ra" style="left:400.05px;top:195.70px;"><span style="font-size:6.4px;line-height:6.4px;top:-3.20px">cancer&ndash;ligand</span></div>
<div class="ra" style="left:412.15px;top:195.70px;"><span style="font-size:6.4px;line-height:6.4px;top:-3.20px">stroma&ndash;ligand</span></div>
<div class="ra" style="left:424.25px;top:195.70px;"><span style="font-size:6.4px;line-height:6.4px;top:-3.20px">stroma&ndash;receptor</span></div>
<div class="t" style="left:309.95px;width:200px;text-align:center;top:15.66px;font-size:5.25px;line-height:5.25px;font-weight:bold;-webkit-text-stroke:0.05px #000;color:#1a1a1a;">Endometrial</div>
<div class="t" style="left:309.95px;width:200px;text-align:center;top:21.76px;font-size:5.25px;line-height:5.25px;font-weight:bold;-webkit-text-stroke:0.05px #000;color:#1a1a1a;">cancer (TCGA)</div>
<div class="ra" style="left:443.95px;top:195.70px;"><span style="font-size:6.4px;line-height:6.4px;top:-3.20px">cancer&ndash;ligand</span></div>
<div class="ra" style="left:456.05px;top:195.70px;"><span style="font-size:6.4px;line-height:6.4px;top:-3.20px">stroma&ndash;ligand</span></div>
<div class="ra" style="left:468.15px;top:195.70px;"><span style="font-size:6.4px;line-height:6.4px;top:-3.20px">stroma&ndash;receptor</span></div>
<div class="t" style="left:353.85px;width:200px;text-align:center;top:15.66px;font-size:5.25px;line-height:5.25px;font-weight:bold;-webkit-text-stroke:0.05px #000;color:#1a1a1a;">Consensus</div>
<div class="t" style="left:486.40px;top:26.86px;font-size:5.6px;line-height:5.6px;color:#1a1a1a;color:#2a2a2a;-webkit-text-stroke:0">Effect</div>
<div class="t" style="left:497.80px;top:36.96px;font-size:5.25px;line-height:5.25px;color:#1a1a1a;color:#2a2a2a;-webkit-text-stroke:0">activating</div>
<div class="t" style="left:497.80px;top:45.06px;font-size:5.25px;line-height:5.25px;color:#1a1a1a;color:#2a2a2a;-webkit-text-stroke:0">inhibitory</div>
<div class="t" style="left:60.10px;top:256.81px;font-size:5.3px;line-height:5.3px;font-weight:bold;-webkit-text-stroke:0.05px #000;color:#1a1a1a;">Cytokines/</div>
<div class="t" style="left:60.10px;top:263.11px;font-size:5.3px;line-height:5.3px;font-weight:bold;-webkit-text-stroke:0.05px #000;color:#1a1a1a;">Chemokines</div>
<div class="t" style="right:427.20px;top:272.97px;font-size:6.2px;line-height:6.2px;color:#1a1a1a;">CCL2&gt;CCR2</div>
<div class="t" style="right:427.20px;top:279.36px;font-size:6.2px;line-height:6.2px;color:#1a1a1a;">CCL5&gt;CCR5</div>
<div class="t" style="right:427.20px;top:285.75px;font-size:6.2px;line-height:6.2px;color:#1a1a1a;">CCL20&gt;CCR6</div>
<div class="t" style="right:427.20px;top:292.14px;font-size:6.2px;line-height:6.2px;color:#1a1a1a;">CCL22&gt;CCR4</div>
<div class="t" style="right:427.20px;top:298.53px;font-size:6.2px;line-height:6.2px;color:#1a1a1a;">CCL28&gt;CCR10</div>
<div class="t" style="right:427.20px;top:304.92px;font-size:6.2px;line-height:6.2px;color:#1a1a1a;">CXCL9&gt;CXCR3</div>
<div class="t" style="right:427.20px;top:311.31px;font-size:6.2px;line-height:6.2px;color:#1a1a1a;">CXCL10&gt;CXCR3</div>
<div class="t" style="right:427.20px;top:317.70px;font-size:6.2px;line-height:6.2px;color:#1a1a1a;">CXCL11&gt;CXCR3</div>
<div class="t" style="right:427.20px;top:324.09px;font-size:6.2px;line-height:6.2px;color:#1a1a1a;">CXCL12&gt;CXCR4</div>
<div class="t" style="right:427.20px;top:330.48px;font-size:6.2px;line-height:6.2px;color:#1a1a1a;">CXCL13&gt;CXCR5</div>
<div class="t" style="right:427.20px;top:336.87px;font-size:6.2px;line-height:6.2px;color:#1a1a1a;">CSF1&gt;CSF1R</div>
<div class="t" style="right:427.20px;top:343.26px;font-size:6.2px;line-height:6.2px;color:#1a1a1a;">CSF2&gt;CSF2RA</div>
<div class="t" style="right:427.20px;top:349.65px;font-size:6.2px;line-height:6.2px;color:#1a1a1a;">FASLG&gt;FAS</div>
<div class="t" style="right:427.20px;top:356.04px;font-size:6.2px;line-height:6.2px;color:#1a1a1a;">IFNG&gt;IFNGR2</div>
<div class="t" style="right:427.20px;top:362.43px;font-size:6.2px;line-height:6.2px;color:#1a1a1a;">IFNG&gt;IFNGR1</div>
<div class="t" style="right:427.20px;top:368.82px;font-size:6.2px;line-height:6.2px;color:#1a1a1a;">IL2&gt;IL2RA</div>
<div class="t" style="right:427.20px;top:375.21px;font-size:6.2px;line-height:6.2px;color:#1a1a1a;">IL6&gt;IL6R</div>
<div class="t" style="right:427.20px;top:381.60px;font-size:6.2px;line-height:6.2px;color:#1a1a1a;">IL12A&gt;IL12RB1</div>
<div class="t" style="right:427.20px;top:387.99px;font-size:6.2px;line-height:6.2px;color:#1a1a1a;">IL12A&gt;IL12RB2</div>
<div class="t" style="right:427.20px;top:394.38px;font-size:6.2px;line-height:6.2px;color:#1a1a1a;">IL15&gt;IL15RA</div>
<div class="t" style="right:427.20px;top:400.77px;font-size:6.2px;line-height:6.2px;color:#1a1a1a;">IL21&gt;IL21R</div>
<div class="t" style="right:427.20px;top:407.16px;font-size:6.2px;line-height:6.2px;color:#1a1a1a;">TGF&beta;&gt;TGFBR2</div>
<div class="t" style="right:427.20px;top:413.55px;font-size:6.2px;line-height:6.2px;color:#1a1a1a;">TGF&beta;&gt;TGFBR1</div>
<div class="t" style="right:427.20px;top:419.94px;font-size:6.2px;line-height:6.2px;color:#1a1a1a;">TNF&alpha;&gt;TNFRSF1B</div>
<div class="t" style="right:427.20px;top:426.33px;font-size:6.2px;line-height:6.2px;color:#1a1a1a;">TNF&alpha;&gt;TNFRSF1A</div>
<div class="ra" style="left:103.00px;top:438.15px;"><span style="font-size:6.4px;line-height:6.4px;top:-3.20px">cancer&ndash;ligand</span></div>
<div class="ra" style="left:111.50px;top:438.15px;"><span style="font-size:6.4px;line-height:6.4px;top:-3.20px">cancer&ndash;receptor</span></div>
<div class="ra" style="left:120.00px;top:438.15px;"><span style="font-size:6.4px;line-height:6.4px;top:-3.20px">stroma&ndash;ligand</span></div>
<div class="ra" style="left:128.50px;top:438.15px;"><span style="font-size:6.4px;line-height:6.4px;top:-3.20px">stroma&ndash;receptor</span></div>
<div class="t" style="left:13.70px;width:200px;text-align:center;top:258.00px;font-size:5.2px;line-height:5.2px;font-weight:bold;-webkit-text-stroke:0.05px #000;color:#1a1a1a;">Melanoma</div>
<div class="t" style="left:13.70px;width:200px;text-align:center;top:264.00px;font-size:5.2px;line-height:5.2px;font-weight:bold;-webkit-text-stroke:0.05px #000;color:#1a1a1a;">(Liu et al.)</div>
<div class="ra" style="left:147.60px;top:438.15px;"><span style="font-size:6.4px;line-height:6.4px;top:-3.20px">cancer&ndash;ligand</span></div>
<div class="ra" style="left:156.10px;top:438.15px;"><span style="font-size:6.4px;line-height:6.4px;top:-3.20px">cancer&ndash;receptor</span></div>
<div class="ra" style="left:164.60px;top:438.15px;"><span style="font-size:6.4px;line-height:6.4px;top:-3.20px">stroma&ndash;ligand</span></div>
<div class="ra" style="left:173.10px;top:438.15px;"><span style="font-size:6.4px;line-height:6.4px;top:-3.20px">stroma&ndash;receptor</span></div>
<div class="t" style="left:58.30px;width:200px;text-align:center;top:258.00px;font-size:5.2px;line-height:5.2px;font-weight:bold;-webkit-text-stroke:0.05px #000;color:#1a1a1a;">Melanoma</div>
<div class="t" style="left:58.30px;width:200px;text-align:center;top:264.00px;font-size:5.2px;line-height:5.2px;font-weight:bold;-webkit-text-stroke:0.05px #000;color:#1a1a1a;">(Gide et al.)</div>
<div class="ra" style="left:192.20px;top:438.15px;"><span style="font-size:6.4px;line-height:6.4px;top:-3.20px">cancer&ndash;ligand</span></div>
<div class="ra" style="left:200.70px;top:438.15px;"><span style="font-size:6.4px;line-height:6.4px;top:-3.20px">cancer&ndash;receptor</span></div>
<div class="ra" style="left:209.20px;top:438.15px;"><span style="font-size:6.4px;line-height:6.4px;top:-3.20px">stroma&ndash;ligand</span></div>
<div class="ra" style="left:217.70px;top:438.15px;"><span style="font-size:6.4px;line-height:6.4px;top:-3.20px">stroma&ndash;receptor</span></div>
<div class="t" style="left:102.90px;width:200px;text-align:center;top:258.00px;font-size:5.2px;line-height:5.2px;font-weight:bold;-webkit-text-stroke:0.05px #000;color:#1a1a1a;">Urothelial cancer</div>
<div class="t" style="left:102.90px;width:200px;text-align:center;top:264.00px;font-size:5.2px;line-height:5.2px;font-weight:bold;-webkit-text-stroke:0.05px #000;color:#1a1a1a;">(Mariathasan et al.)</div>
<div class="ra" style="left:236.80px;top:438.15px;"><span style="font-size:6.4px;line-height:6.4px;top:-3.20px">cancer&ndash;ligand</span></div>
<div class="ra" style="left:245.30px;top:438.15px;"><span style="font-size:6.4px;line-height:6.4px;top:-3.20px">cancer&ndash;receptor</span></div>
<div class="ra" style="left:253.80px;top:438.15px;"><span style="font-size:6.4px;line-height:6.4px;top:-3.20px">stroma&ndash;ligand</span></div>
<div class="ra" style="left:262.30px;top:438.15px;"><span style="font-size:6.4px;line-height:6.4px;top:-3.20px">stroma&ndash;receptor</span></div>
<div class="t" style="left:147.50px;width:200px;text-align:center;top:258.00px;font-size:5.2px;line-height:5.2px;font-weight:bold;-webkit-text-stroke:0.05px #000;color:#1a1a1a;">Gastric cancer</div>
<div class="t" style="left:147.50px;width:200px;text-align:center;top:264.00px;font-size:5.2px;line-height:5.2px;font-weight:bold;-webkit-text-stroke:0.05px #000;color:#1a1a1a;">(Kim et al.)</div>
<div class="ra" style="left:281.40px;top:438.15px;"><span style="font-size:6.4px;line-height:6.4px;top:-3.20px">cancer&ndash;ligand</span></div>
<div class="ra" style="left:289.90px;top:438.15px;"><span style="font-size:6.4px;line-height:6.4px;top:-3.20px">cancer&ndash;receptor</span></div>
<div class="ra" style="left:298.40px;top:438.15px;"><span style="font-size:6.4px;line-height:6.4px;top:-3.20px">stroma&ndash;ligand</span></div>
<div class="ra" style="left:306.90px;top:438.15px;"><span style="font-size:6.4px;line-height:6.4px;top:-3.20px">stroma&ndash;receptor</span></div>
<div class="t" style="left:192.10px;width:200px;text-align:center;top:258.00px;font-size:5.2px;line-height:5.2px;font-weight:bold;-webkit-text-stroke:0.05px #000;color:#1a1a1a;">Gastric cancer</div>
<div class="t" style="left:192.10px;width:200px;text-align:center;top:264.00px;font-size:5.2px;line-height:5.2px;font-weight:bold;-webkit-text-stroke:0.05px #000;color:#1a1a1a;">(TCGA)</div>
<div class="ra" style="left:326.00px;top:438.15px;"><span style="font-size:6.4px;line-height:6.4px;top:-3.20px">cancer&ndash;ligand</span></div>
<div class="ra" style="left:334.50px;top:438.15px;"><span style="font-size:6.4px;line-height:6.4px;top:-3.20px">cancer&ndash;receptor</span></div>
<div class="ra" style="left:343.00px;top:438.15px;"><span style="font-size:6.4px;line-height:6.4px;top:-3.20px">stroma&ndash;ligand</span></div>
<div class="ra" style="left:351.50px;top:438.15px;"><span style="font-size:6.4px;line-height:6.4px;top:-3.20px">stroma&ndash;receptor</span></div>
<div class="t" style="left:236.70px;width:200px;text-align:center;top:258.00px;font-size:5.2px;line-height:5.2px;font-weight:bold;-webkit-text-stroke:0.05px #000;color:#1a1a1a;">Colorectal</div>
<div class="t" style="left:236.70px;width:200px;text-align:center;top:264.00px;font-size:5.2px;line-height:5.2px;font-weight:bold;-webkit-text-stroke:0.05px #000;color:#1a1a1a;">cancer (TCGA)</div>
<div class="ra" style="left:370.60px;top:438.15px;"><span style="font-size:6.4px;line-height:6.4px;top:-3.20px">cancer&ndash;ligand</span></div>
<div class="ra" style="left:379.10px;top:438.15px;"><span style="font-size:6.4px;line-height:6.4px;top:-3.20px">cancer&ndash;receptor</span></div>
<div class="ra" style="left:387.60px;top:438.15px;"><span style="font-size:6.4px;line-height:6.4px;top:-3.20px">stroma&ndash;ligand</span></div>
<div class="ra" style="left:396.10px;top:438.15px;"><span style="font-size:6.4px;line-height:6.4px;top:-3.20px">stroma&ndash;receptor</span></div>
<div class="t" style="left:281.30px;width:200px;text-align:center;top:258.00px;font-size:5.2px;line-height:5.2px;font-weight:bold;-webkit-text-stroke:0.05px #000;color:#1a1a1a;">Endometrial</div>
<div class="t" style="left:281.30px;width:200px;text-align:center;top:264.00px;font-size:5.2px;line-height:5.2px;font-weight:bold;-webkit-text-stroke:0.05px #000;color:#1a1a1a;">cancer (TCGA)</div>
<div class="ra" style="left:415.20px;top:438.15px;"><span style="font-size:6.4px;line-height:6.4px;top:-3.20px">cancer&ndash;ligand</span></div>
<div class="ra" style="left:423.70px;top:438.15px;"><span style="font-size:6.4px;line-height:6.4px;top:-3.20px">cancer&ndash;receptor</span></div>
<div class="ra" style="left:432.20px;top:438.15px;"><span style="font-size:6.4px;line-height:6.4px;top:-3.20px">stroma&ndash;ligand</span></div>
<div class="ra" style="left:440.70px;top:438.15px;"><span style="font-size:6.4px;line-height:6.4px;top:-3.20px">stroma&ndash;receptor</span></div>
<div class="t" style="left:325.90px;width:200px;text-align:center;top:258.00px;font-size:5.2px;line-height:5.2px;font-weight:bold;-webkit-text-stroke:0.05px #000;color:#1a1a1a;">Consensus</div>
<div class="t" style="left:450.70px;top:262.57px;font-size:5.7px;line-height:5.7px;color:#1a1a1a;color:#2a2a2a;-webkit-text-stroke:0">Upregulated in</div>
<div class="t" style="left:450.70px;top:269.07px;font-size:5.7px;line-height:5.7px;color:#1a1a1a;color:#2a2a2a;-webkit-text-stroke:0">MSI/responders</div>
<div class="t" style="left:465.50px;top:274.97px;font-size:5.8px;line-height:5.8px;color:#1a1a1a;color:#2a2a2a;-webkit-text-stroke:0">5</div>
<div class="t" style="left:465.50px;top:283.67px;font-size:5.8px;line-height:5.8px;color:#1a1a1a;color:#2a2a2a;-webkit-text-stroke:0">3</div>
<div class="t" style="left:465.50px;top:293.17px;font-size:5.8px;line-height:5.8px;color:#1a1a1a;color:#2a2a2a;-webkit-text-stroke:0">1</div>
<div class="t" style="left:461.70px;top:303.77px;font-size:5.8px;line-height:5.8px;color:#1a1a1a;color:#2a2a2a;-webkit-text-stroke:0">&minus;1</div>
<div class="t" style="left:461.70px;top:313.67px;font-size:5.8px;line-height:5.8px;color:#1a1a1a;color:#2a2a2a;-webkit-text-stroke:0">&minus;3</div>
<div class="t" style="left:461.70px;top:322.27px;font-size:5.8px;line-height:5.8px;color:#1a1a1a;color:#2a2a2a;-webkit-text-stroke:0">&minus;5</div>
<div class="t" style="left:472.9px;top:298.2px;font-size:5.5px;line-height:5.5px;color:#2a2a2a;-webkit-text-stroke:0">&minus;log<sub style="font-size:3.6px;vertical-align:-1px">10</sub>(<i>P</i>)</div>
<div class="t" style="left:450.70px;top:328.17px;font-size:5.7px;line-height:5.7px;color:#1a1a1a;color:#2a2a2a;-webkit-text-stroke:0">Upregulated in MSS/</div>
<div class="t" style="left:450.70px;top:334.57px;font-size:5.7px;line-height:5.7px;color:#1a1a1a;color:#2a2a2a;-webkit-text-stroke:0">nonresponders</div>
</div>
</body></html>
